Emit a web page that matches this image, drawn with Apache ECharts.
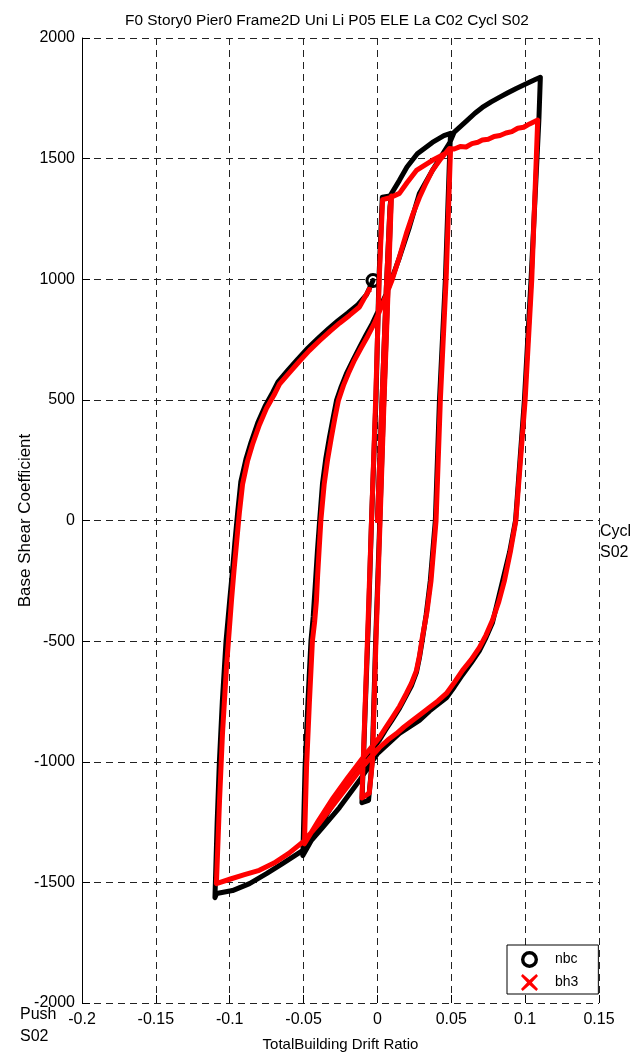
<!DOCTYPE html>
<html>
<head>
<meta charset="utf-8">
<script src="https://cdn.jsdelivr.net/npm/echarts@6/dist/echarts.min.js"></script>
<style>
html,body{margin:0;padding:0;background:#fff;}
#chart{width:633px;height:1057px;}
</style>
</head>
<body>
<div id="chart"></div>
<script>
// ---- data ----
const xTicks = [-0.2, -0.15, -0.1, -0.05, 0, 0.05, 0.1, 0.15];
const yTicks = [-2000, -1500, -1000, -500, 0, 500, 1000, 1500, 2000];

// nbc (black) path: small cycle, +/-0.05 cycle, +/-0.11 cycle
const nbcDrift = [
  0, 0.003, 0.006, 0.0085, 0.0093,
  0.0073, 0.0043, 0.0016, -0.0012, -0.0036, -0.006, -0.0105,
  -0.0085, -0.006, -0.004, -0.001, 0.001, 0.0033,
  0.0085, 0.0149, 0.02, 0.027, 0.0372, 0.045, 0.0495,
  0.0488, 0.046, 0.042, 0.0392, 0.0358, 0.033, 0.0304, 0.0284, 0.0264, 0.023, 0.0196, 0.015, 0.0101, 0.0055, 0.0014, -0.01, -0.02, -0.03, -0.04, -0.0505,
  -0.049, -0.047, -0.045, -0.0435, -0.042, -0.0406, -0.039, -0.0372, -0.035, -0.0325, -0.03, -0.0277, -0.0245, -0.021, -0.0165, -0.0122, -0.0078, -0.0034, 0.0061, 0.0149, 0.0216, 0.0284, 0.0372, 0.0487, 0.052,
  0.0602, 0.066, 0.071, 0.077, 0.0825, 0.088, 0.094, 0.1, 0.1076, 0.1103,
  0.1093, 0.104, 0.0995, 0.0935, 0.0895, 0.0848, 0.081, 0.0778, 0.0735, 0.069, 0.0635, 0.0575, 0.052, 0.0467, 0.041, 0.0352, 0.0284, 0.0149, 0, -0.0122, -0.0257, -0.0372, -0.0507, -0.0643, -0.0751, -0.0866, -0.0981, -0.1089, -0.11,
  -0.1085, -0.107, -0.105, -0.1025, -0.1, -0.098, -0.0965, -0.0945, -0.0925, -0.089, -0.0855, -0.081, -0.076, -0.071, -0.0673, -0.061, -0.0538, -0.047, -0.0402, -0.033, -0.0267, -0.02, -0.0132, -0.0075, -0.003
];
const nbcShear = [
  0, 480, 960, 1300, 1345,
  1000, 500, 0, -500, -1000, -1160, -1170,
  -820, -400, 0, 500, 1000, 1340,
  1345, 1410, 1465, 1520, 1567, 1595, 1605,
  1500, 1000, 500, 0, -249, -390, -495, -570, -630, -685, -725, -778, -825, -868, -910, -1000, -1085, -1175, -1275, -1389,
  -1024, -746, -498, -400, -260, -124, 10, 153, 255, 344, 425, 498, 555, 609, 665, 717, 768, 817, 941, 1090, 1215, 1356, 1451, 1563, 1610,
  1655, 1688, 1712, 1735, 1754, 1772, 1791, 1808, 1830, 1837,
  1660, 1000, 500, 0, -130, -249, -345, -425, -485, -540, -590, -640, -690, -735, -762, -790, -829, -883, -966, -1078, -1190, -1273, -1368, -1422, -1464, -1505, -1534, -1546, -1563,
  -1250, -1000, -750, -500, -330, -200, -90, 40, 160, 255, 325, 405, 475, 530, 575, 620, 670, 715, 755, 795, 828, 860, 895, 935, 995
];

// bh3 (red) path
const bh3Drift = [
  0, 0.003, 0.006, 0.0085, 0.0095,
  0.0075, 0.0045, 0.0018, -0.001, -0.0034, -0.0055, -0.0105,
  -0.0085, -0.006, -0.004, -0.0012, 0.0012, 0.0035,
  0.0085, 0.0149, 0.02, 0.0264, 0.0372, 0.0487, 0.0495,
  0.0465, 0.0426, 0.0397, 0.0363, 0.0335, 0.0304, 0.0285, 0.0264, 0.023, 0.0196, 0.015, 0.0101, 0.0055, 0.0014, -0.01, -0.02, -0.03, -0.04, -0.0494,
  -0.048, -0.046, -0.044, -0.0425, -0.0413, -0.0405, -0.0395, -0.0383, -0.036, -0.0338, -0.0312, -0.0288, -0.0264, -0.023, -0.0197, -0.0155, -0.0109, -0.0065, -0.0021, 0.004, 0.0101, 0.015, 0.0196, 0.024, 0.0284, 0.033, 0.0372, 0.043, 0.0487,
  0.052, 0.056, 0.06, 0.064, 0.068, 0.071, 0.075, 0.079, 0.083, 0.087, 0.091, 0.095, 0.099, 0.103, 0.1085,
  0.1045, 0.1, 0.0937, 0.09, 0.086, 0.082, 0.0778, 0.0735, 0.069, 0.0635, 0.0575, 0.052, 0.0467, 0.041, 0.0352, 0.0295, 0.0237, 0.018, 0.0129, 0.007, 0.0014, -0.01, -0.02, -0.03, -0.04, -0.05, -0.06, -0.07, -0.08, -0.09, -0.1, -0.109,
  -0.1069, -0.1049, -0.1022, -0.0988, -0.097, -0.0954, -0.0935, -0.0913, -0.088, -0.0846, -0.08, -0.0751, -0.07, -0.0663, -0.06, -0.0528, -0.046, -0.0392, -0.032, -0.0257, -0.019, -0.0122, -0.0055
];
const bh3Shear = [
  0, 480, 960, 1295, 1345,
  1000, 500, 0, -500, -1000, -1130, -1150,
  -800, -360, 0, 500, 1000, 1330,
  1338, 1356, 1400, 1451, 1493, 1530, 1540,
  1000, 500, 0, -249, -380, -485, -560, -622, -675, -717, -770, -817, -860, -899, -985, -1065, -1150, -1245, -1340,
  -1024, -746, -498, -420, -332, -230, -124, 0, 153, 250, 344, 425, 498, 560, 609, 665, 717, 765, 817, 905, 1000, 1095, 1190, 1270, 1339, 1400, 1451, 1500, 1542,
  1540, 1550, 1548, 1562, 1568, 1577, 1580, 1592, 1596, 1606, 1612, 1626, 1630, 1644, 1660,
  1000, 500, 0, -130, -249, -340, -415, -475, -527, -577, -622, -672, -717, -748, -775, -802, -829, -856, -883, -910, -941, -1020, -1100, -1180, -1260, -1330, -1380, -1420, -1450, -1468, -1487, -1505,
  -1161, -883, -609, -332, -200, -95, 30, 150, 245, 315, 395, 465, 520, 565, 610, 660, 705, 745, 785, 818, 850, 885, 958
];

const seriesNames = ['nbc', 'bh3'];
const titleText = 'F0 Story0 Pier0 Frame2D Uni Li P05 ELE La C02 Cycl S02';

// ---- build ----
const zip = (xs, ys) => xs.map((x, i) => [x, ys[i]]);
const nbcData = zip(nbcDrift, nbcShear);
const bh3Data = zip(bh3Drift, bh3Shear);
const FONT = '"Liberation Sans", Arial, sans-serif';
const xMarkPath = 'path://M1,0 L5,3.6 L9,0 L10,1.2 L6.4,5 L10,8.8 L9,10 L5,6.4 L1,10 L0,8.8 L3.6,5 L0,1.2 Z';
const ringPath = 'path://M10,0 A10,10 0 1,1 9.99,0 Z M10,4 A6,6 0 1,0 10.01,4 Z';

const chart = echarts.init(document.getElementById('chart'), null, {renderer: 'canvas'});
chart.setOption({
  animation: false,
  backgroundColor: '#fff',
  title: {
    text: titleText,
    left: 322, top: 8, textAlign: 'center',
    textStyle: {fontFamily: FONT, fontSize: 15.4, fontWeight: 'normal', color: '#000'}
  },
  grid: {left: 82, right: 34, top: 38, bottom: 54, containLabel: false, outerBoundsMode: 'none'},
  xAxis: {
    type: 'value', min: xTicks[0], max: xTicks[xTicks.length - 1], interval: 0.05,
    name: 'TotalBuilding Drift Ratio', nameLocation: 'middle', nameGap: 34, nameMoveOverlap: false,
    nameTextStyle: {fontFamily: FONT, fontSize: 15, color: '#000'},
    axisLine: {show: false, onZero: false},
    axisTick: {show: true, inside: true, length: 8, lineStyle: {color: '#000'}},
    axisLabel: {fontFamily: FONT, fontSize: 16, color: '#000', margin: 9,
      formatter: v => String(xTicks.find(t => Math.abs(t - v) < 1e-9) ?? +v.toFixed(2))},
    splitLine: {show: true, lineStyle: {color: '#222', width: 1, type: [7, 5]}}
  },
  yAxis: {
    type: 'value', min: yTicks[0], max: yTicks[yTicks.length - 1], interval: 500,
    name: 'Base Shear Coefficient', nameLocation: 'middle', nameGap: 48, nameMoveOverlap: false,
    nameTextStyle: {fontFamily: FONT, fontSize: 17, color: '#000'},
    axisLine: {show: true, onZero: false, lineStyle: {color: '#000', width: 1}},
    axisTick: {show: true, inside: true, length: 8, lineStyle: {color: '#000'}},
    axisLabel: {fontFamily: FONT, fontSize: 16, color: '#000', margin: 7, formatter: v => String(v)},
    splitLine: {show: true, lineStyle: {color: '#222', width: 1, type: [7, 5]}}
  },
  legend: {
    orient: 'vertical', left: 507, top: 945,
    backgroundColor: '#fff', borderColor: '#000', borderWidth: 1,
    padding: [6, 20, 3, 14], itemGap: 6, itemWidth: 17, itemHeight: 17,
    textStyle: {fontFamily: FONT, fontSize: 14, color: '#000', padding: [0, 0, 0, 12]},
    data: [
      {name: seriesNames[0], icon: ringPath, itemStyle: {color: '#000'}},
      {name: seriesNames[1], icon: xMarkPath, itemStyle: {color: '#f00'}}
    ]
  },
  graphic: [
    {type: 'text', left: 600, top: 521, style: {text: 'Cycl\nS02', font: '16px ' + FONT, fill: '#000', lineHeight: 21}},
    {type: 'text', left: 20, top: 1004, style: {text: 'Push\nS02', font: '16px ' + FONT, fill: '#000', lineHeight: 22}}
  ],
  series: [
    {type: 'line', name: 'nbc-line', data: nbcData, symbol: 'none', smooth: false,
      lineStyle: {color: '#000', width: 5, join: 'round', cap: 'round'}, z: 3},
    {type: 'scatter', name: seriesNames[0], data: [nbcData[nbcData.length - 1]], symbol: ringPath, symbolSize: 15,
      itemStyle: {color: '#000', opacity: 1}, z: 3},
    {type: 'line', name: 'bh3-line', data: bh3Data, symbol: 'none', smooth: false,
      lineStyle: {color: '#f00', width: 5, join: 'round', cap: 'round'}, z: 4},
    {type: 'scatter', name: seriesNames[1], data: [bh3Data[bh3Data.length - 1]], symbol: xMarkPath, symbolSize: 5,
      itemStyle: {color: '#f00', opacity: 1}, z: 4}
  ]
});
</script>
</body>
</html>
